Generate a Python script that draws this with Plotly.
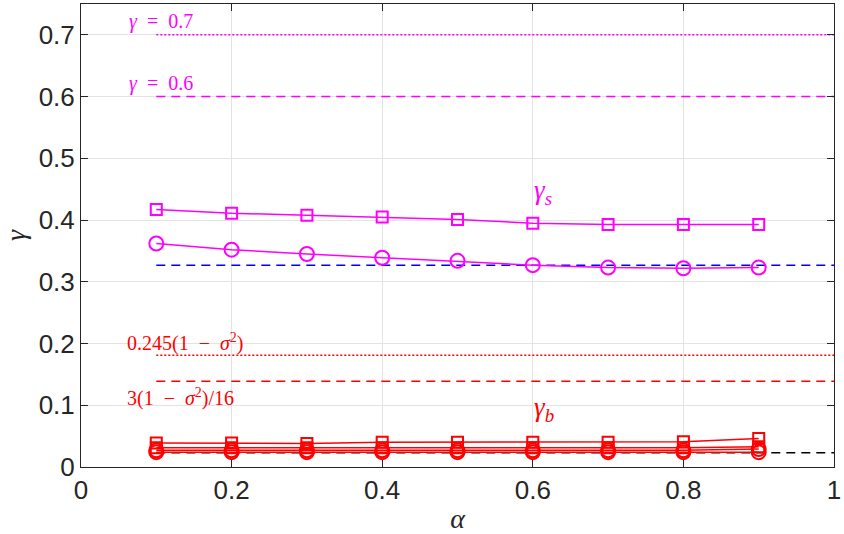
import plotly.graph_objects as go

# Sample points along alpha
alpha = [0.1, 0.2, 0.3, 0.4, 0.5, 0.6, 0.7, 0.8, 0.9]

# gamma_s curves (magenta)
gs_square = [0.417, 0.411, 0.408, 0.405, 0.401, 0.395, 0.393, 0.393, 0.393]
gs_circle = [0.362, 0.352, 0.345, 0.339, 0.334, 0.327, 0.323, 0.322, 0.323]

# gamma_b curves (red)
gb_square_a = [0.039, 0.039, 0.038, 0.040, 0.040, 0.040, 0.040, 0.041, 0.046]
gb_square_b = [0.031, 0.031, 0.031, 0.031, 0.031, 0.031, 0.031, 0.031, 0.033]
gb_circle_a = [0.027, 0.027, 0.027, 0.027, 0.027, 0.027, 0.027, 0.027, 0.029]
gb_circle_b = [0.024, 0.024, 0.024, 0.024, 0.024, 0.024, 0.024, 0.024, 0.024]

# Reference levels drawn from alpha = 0.1 to 1
ref_x = [0.1, 1.0]
level_07 = 0.7
level_06 = 0.6
level_blue = 0.327
level_0245 = 0.181
level_3_16 = 0.139
level_black = 0.023

# Axis ticks
x_ticks = [0, 0.2, 0.4, 0.6, 0.8, 1]
x_tick_text = ["0", "0.2", "0.4", "0.6", "0.8", "1"]
y_ticks = [0, 0.1, 0.2, 0.3, 0.4, 0.5, 0.6, 0.7]
y_tick_text = ["0", "0.1", "0.2", "0.3", "0.4", "0.5", "0.6", "0.7"]

MAG = "#ff00ff"
RED = "#ff0000"
SERIF = "Liberation Serif"
SP = "\u2002"  # wider space around relation/operator signs

fig = go.Figure()


def hline(y, color, dash, width=1.5):
    fig.add_trace(go.Scatter(x=ref_x, y=[y, y], mode="lines",
                             line=dict(color=color, dash=dash, width=width),
                             hoverinfo="skip", showlegend=False))


hline(level_07, MAG, "2px,2px")
hline(level_06, MAG, "9px,6px")
hline(level_blue, "#0000ff", "9px,6px")
hline(level_0245, RED, "2px,2px")
hline(level_3_16, RED, "9px,6px")
hline(level_black, "#000000", "9px,6px")


def curve(y, color, symbol, size):
    fig.add_trace(go.Scatter(x=alpha, y=y, mode="lines+markers",
                             line=dict(color=color, width=1.5),
                             marker=dict(symbol=symbol, size=size, color=color,
                                         line=dict(color=color, width=2)),
                             showlegend=False))


curve(gs_square, MAG, "square-open", 11)
curve(gs_circle, MAG, "circle-open", 14)
curve(gb_square_b, RED, "square-open", 11)
curve(gb_square_a, RED, "square-open", 11)
curve(gb_circle_a, RED, "circle-open", 14)
curve(gb_circle_b, RED, "circle-open", 14)

# Text labels
labels = [
    (0.061, 0.722, f"<i>γ</i>{SP}={SP}0.7", MAG, 20),
    (0.061, 0.622, f"<i>γ</i>{SP}={SP}0.6", MAG, 20),
    (0.599, 0.446, "<i>γ</i><sub><i>s</i></sub>", MAG, 27),
    (0.059, 0.201, f"0.245(1{SP}−{SP}<i>σ</i><sup>2</sup>)", RED, 20),
    (0.059, 0.112, f"3(1{SP}−{SP}<i>σ</i><sup>2</sup>)/16", RED, 20),
    (0.599, 0.094, "<i>γ</i><sub><i>b</i></sub>", RED, 27),
]
for x, y, t, c, s in labels:
    fig.add_annotation(x=x, y=y, text=t, showarrow=False, xanchor="left", yanchor="middle",
                       font=dict(family=SERIF, size=s, color=c))

axis_common = dict(
    showline=True, linecolor="#262626", linewidth=1, mirror="allticks",
    ticks="inside", ticklen=7, tickcolor="#262626",
    showgrid=True, gridcolor="#e3e3e3", gridwidth=1,
    zeroline=False, ticklabeloverflow="allow",
    tickfont=dict(family="Liberation Sans", size=26, color="#262626"),
)

fig.update_xaxes(range=[0, 1], tickvals=x_ticks, ticktext=x_tick_text,
                 title=dict(text="<i>α</i>", font=dict(family=SERIF, size=28, color="#262626"), standoff=6),
                 **axis_common)
fig.update_yaxes(range=[0, 0.75], tickvals=y_ticks, ticktext=y_tick_text,
                 title=dict(text="<i>γ</i>", font=dict(family=SERIF, size=28, color="#262626"), standoff=13),
                 **axis_common)

fig.update_layout(width=844, height=534, margin=dict(l=81, r=3, t=4, b=67),
                  plot_bgcolor="white", paper_bgcolor="white")

fig.write_html("out.html")
